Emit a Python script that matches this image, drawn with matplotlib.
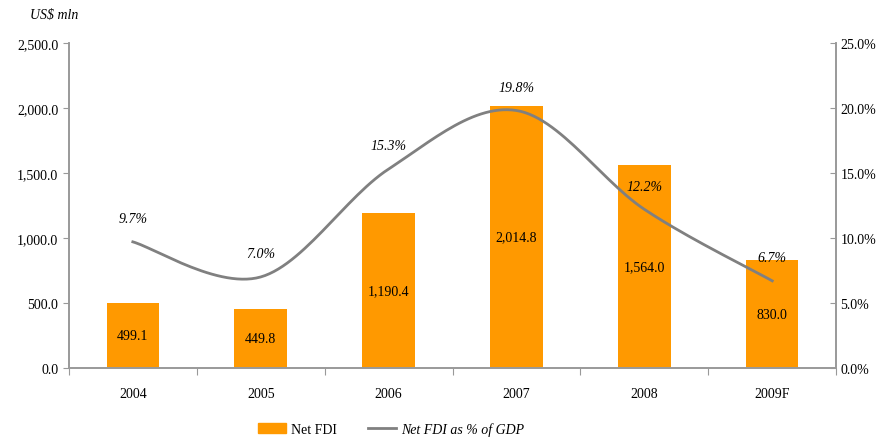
import matplotlib.pyplot as plt
import numpy as np
from matplotlib.patches import Patch
from matplotlib.lines import Line2D
from matplotlib.ticker import FuncFormatter

plt.rcParams['font.family'] = ['Liberation Serif', 'DejaVu Serif']

years = ['2004', '2005', '2006', '2007', '2008', '2009F']
net_fdi = [499.1, 449.8, 1190.4, 2014.8, 1564.0, 830.0]
fdi_pct_gdp = [9.7, 7.0, 15.3, 19.8, 12.2, 6.7]

orange = '#ff9900'
grey = '#808080'
axis_col = '#999999'


def smooth(x, y, n=30):
    # excel-like smoothed line (catmull-rom as cubic bezier)
    x = np.asarray(x, float)
    y = np.asarray(y, float)
    px = np.r_[x[0], x, x[-1]]
    py = np.r_[y[0], y, y[-1]]
    xs, ys = [], []
    t = np.linspace(0, 1, n)
    for i in range(1, len(px) - 2):
        p0 = np.array([px[i], py[i]])
        p3 = np.array([px[i + 1], py[i + 1]])
        c1 = p0 + (np.array([px[i + 1], py[i + 1]]) - np.array([px[i - 1], py[i - 1]])) / 6
        c2 = p3 - (np.array([px[i + 2], py[i + 2]]) - np.array([px[i], py[i]])) / 6
        b = ((1 - t)**3)[:, None] * p0 + (3 * (1 - t)**2 * t)[:, None] * c1 \
            + (3 * (1 - t) * t**2)[:, None] * c2 + (t**3)[:, None] * p3
        xs.extend(b[:, 0])
        ys.extend(b[:, 1])
    return np.array(xs), np.array(ys)


fig = plt.figure(figsize=(8.83, 4.39), dpi=100)
ax = fig.add_axes([0.078, 0.1595, 0.869, 0.7405])
x = np.arange(len(years))

bars = ax.bar(x, net_fdi, width=0.41, color=orange, zorder=2)
for xi, v in zip(x, net_fdi):
    ax.text(xi, v / 2, f'{v:,.1f}', ha='center', va='center', fontsize=10, zorder=5)

ax.set_xlim(-0.5, len(years) - 0.5)
ax.set_ylim(0, 2500)
ax.set_yticks(np.arange(0, 2501, 500))
ax.yaxis.set_major_formatter(FuncFormatter(lambda v, p: f'{v:,.1f}'))
ax.set_xticks(np.arange(-0.5, len(years), 1.0))
ax.set_xticklabels([])
ax.set_xticks(x, minor=True)
ax.set_xticklabels(years, minor=True)
ax.tick_params(axis='x', which='major', length=5, color=axis_col, direction='out')
ax.tick_params(axis='x', which='minor', length=0, pad=14, labelsize=10)
ax.tick_params(axis='y', length=4, color=axis_col, direction='out', labelsize=10)

ax2 = ax.twinx()
ax2.set_ylim(0, 25)
ax2.set_yticks(np.arange(0, 25.1, 5))
ax2.yaxis.set_major_formatter(FuncFormatter(lambda v, p: f'{v:.1f}%'))
ax2.tick_params(axis='y', length=4, color=axis_col, direction='in', labelsize=10, pad=3)

sx, sy = smooth(x, fdi_pct_gdp)
ax2.plot(sx, sy, color=grey, lw=2, zorder=4)
for xi, v in zip(x, fdi_pct_gdp):
    ax2.annotate(f'{v:.1f}%', (xi, v), xytext=(0, 12), textcoords='offset points',
                 ha='center', va='bottom', fontsize=10, style='italic')

for a in (ax, ax2):
    a.spines['top'].set_visible(False)
    for s in ('left', 'right', 'bottom'):
        a.spines[s].set_color(axis_col)
        a.spines[s].set_linewidth(1.2)

fig.text(0.034, 0.965, 'US$ mln', fontsize=10, style='italic', va='center')

handles = [Patch(color=orange, label='Net FDI'),
           Line2D([0], [0], color=grey, lw=2, label='Net FDI as % of GDP')]
leg = fig.legend(handles=handles, loc='center', bbox_to_anchor=(0.443, 0.02), ncol=2,
                 frameon=False, fontsize=10, handlelength=2.0, handletextpad=0.4,
                 columnspacing=2.2)
leg.get_texts()[1].set_style('italic')

fig.savefig('out.png', dpi=100)
